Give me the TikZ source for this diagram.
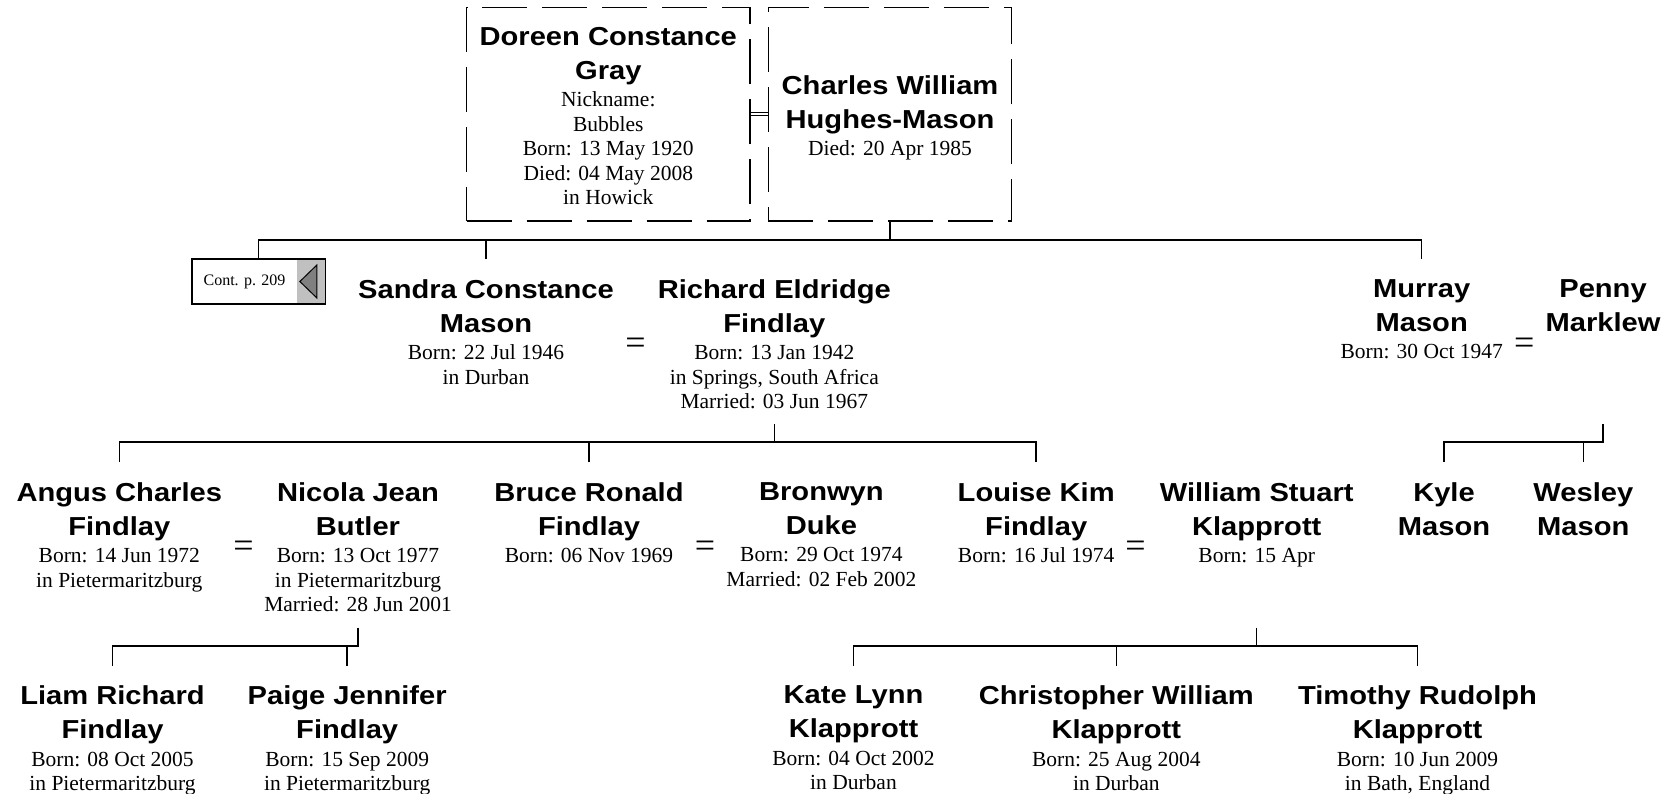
\documentclass[tikz,border=0pt]{standalone}
\usepackage{fontspec}
\setmainfont{Liberation Serif}
\newfontfamily\namefam{Liberation Sans}[FakeStretch=1.12]
\usetikzlibrary{positioning, fit, shapes.geometric}
\definecolor{tabGray}{HTML}{C0C0C0}
\definecolor{tipGray}{HTML}{808080}
\newcommand{\nm}[1]{{\namefam\bfseries\fontsize{26}{34}\selectfont #1}}
\newcommand{\who}[2]{\nm{#1}\\[9.5pt]\nm{#2}}

\begin{document}
\begin{tikzpicture}[x=1pt, y=-1pt,
    person/.style={align=center, anchor=north, inner xsep=0pt, inner ysep=20pt,
      font={\fontsize{21.5}{24.5}\selectfont\lineskiplimit=-100pt}},
    anc/.style={draw, line width=1.2pt, dash pattern=on 45pt off 15pt, minimum height=213.7pt},
    eq/.style={inner sep=0pt, font=\fontsize{36}{36}\selectfont},
    link/.style={line width=1.5pt}]
  \useasboundingbox (0,0) rectangle (1675,794);

  \node[anc, minimum width=283.3pt] (doreen) at (608.3,114.2) {};
  \node[person] (doreenInfo) at (doreen.north)
    {\who{Doreen Constance}{Gray}\\[3pt]Nickname:\\Bubbles\\Born: 13 May 1920\\Died: 04 May 2008\\in Howick};
  \node[anc, minimum width=243.4pt] (charles) at (890,114.2) {};
  \node[person] (charlesInfo) at ([yshift=-48.5pt]charles.north)
    {\who{Charles William}{Hughes-Mason}\\[3pt]Died: 20 Apr 1985};
  \draw[line width=1pt, double, double distance=2.4pt] (doreen.east) -- (charles.west);

  \node[minimum width=105pt, minimum height=45pt, inner sep=0pt,
    font=\fontsize{16}{18}\selectfont] (contlbl) at (244.5,281.5) {Cont. p. 209};
  \node[fill=tabGray, minimum width=28pt, minimum height=45pt, inner sep=0pt,
    right=0pt of contlbl] (conttab) {};
  \node[isosceles triangle, isosceles triangle stretches, shape border rotate=180,
    draw, line width=1pt, fill=tipGray, minimum width=33pt, minimum height=17pt,
    inner sep=0pt] (conttip) at ([xshift=-1.5pt]conttab.center) {};
  \node[draw, line width=1.5pt, inner sep=0pt, fit=(contlbl)(conttab)] (cont) {};

  \node[person] (sandra) at (486,259)
    {\who{Sandra Constance}{Mason}\\[3pt]Born: 22 Jul 1946\\in Durban};
  \node[person] (richard) at (774.3,259)
    {\who{Richard Eldridge}{Findlay}\\[3pt]Born: 13 Jan 1942\\in Springs, South Africa\\Married: 03 Jun 1967};
  \node[person] (murray) at (1421.7,259) {\who{Murray}{Mason}\\[3pt]Born: 30 Oct 1947};
  \node[person] (penny) at (1603,259) {\who{Penny}{Marklew}};

  \node[person] (angus) at (119.3,462)
    {\who{Angus Charles}{Findlay}\\[3pt]Born: 14 Jun 1972\\in Pietermaritzburg};
  \node[person] (nicola) at (358,462)
    {\who{Nicola Jean}{Butler}\\[3pt]Born: 13 Oct 1977\\in Pietermaritzburg\\Married: 28 Jun 2001};
  \node[person] (bruce) at (589,462) {\who{Bruce Ronald}{Findlay}\\[3pt]Born: 06 Nov 1969};
  \node[person] (bronwyn) at (821.4,462)
    {\who{Bronwyn}{Duke}\\[3pt]Born: 29 Oct 1974\\Married: 02 Feb 2002};
  \node[person] (louise) at (1036.2,462) {\who{Louise Kim}{Findlay}\\[3pt]Born: 16 Jul 1974};
  \node[person] (william) at (1256.7,462) {\who{William Stuart}{Klapprott}\\[3pt]Born: 15 Apr};
  \node[person] (kyle) at (1444,462) {\who{Kyle}{Mason}};
  \node[person] (wesley) at (1583.3,462) {\who{Wesley}{Mason}};

  \node[person] (liam) at (112.5,665.5)
    {\who{Liam Richard}{Findlay}\\[3pt]Born: 08 Oct 2005\\in Pietermaritzburg};
  \node[person] (paige) at (347.2,665.5)
    {\who{Paige Jennifer}{Findlay}\\[3pt]Born: 15 Sep 2009\\in Pietermaritzburg};
  \node[person] (kate) at (853.5,665.5) {\who{Kate Lynn}{Klapprott}\\[3pt]Born: 04 Oct 2002\\in Durban};
  \node[person] (christopher) at (1116.3,665.5)
    {\who{Christopher William}{Klapprott}\\[3pt]Born: 25 Aug 2004\\in Durban};
  \node[person] (timothy) at (1417.5,665.5)
    {\who{Timothy Rudolph}{Klapprott}\\[3pt]Born: 10 Jun 2009\\in Bath, England};

  \node[eq] (wed1) at (635.5,345.8) {=};
  \node[eq] (wed2) at (1524.3,345.8) {=};
  \node[eq] (wed3) at (243.5,549) {=};
  \node[eq] (wed4) at (705,549) {=};
  \node[eq] (wed5) at (1135.5,549) {=};

  \coordinate (bar1) at (0,240);
  \coordinate (drop2) at (0,424.3);
  \coordinate (bar2) at (0,442);
  \coordinate (drop3) at (0,627.5);
  \coordinate (bar3) at (0,646);

  \draw[link] (charles.south) -- (charles.south |- bar1);
  \draw[link] (cont.north) |- (murray.north |- bar1) -- (murray.north);
  \draw[link] (richard.north |- drop2) -- (richard.north |- bar2);
  \draw[link] (angus.north) |- (louise.north |- bar2) -- (louise.north);
  \draw[link] (penny.north |- drop2) |- (kyle.north |- bar2) -- (kyle.north);
  \draw[link] (nicola.north |- drop3) |- (liam.north |- bar3) -- (liam.north);
  \draw[link] (william.north |- drop3) -- (william.north |- bar3);
  \draw[link] (kate.north) |- (timothy.north |- bar3) -- (timothy.north);
  \foreach \kid/\bar in {sandra/bar1, bruce/bar2, wesley/bar2, paige/bar3, christopher/bar3}
    \draw[link] (\kid.north) -- (\kid.north |- \bar);
\end{tikzpicture}
\end{document}
